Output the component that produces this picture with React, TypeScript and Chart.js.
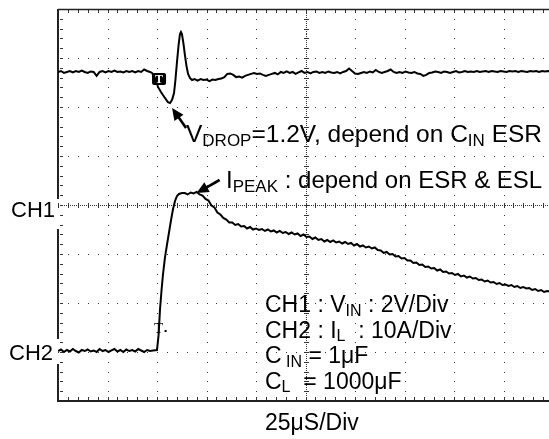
import React, { useEffect, useRef } from "react";
import { Chart, registerables } from "chart.js";

Chart.register(...registerables);

// ---------- DATA ----------
// Timebase: 25 µs/div, 10 divisions.  CH1: 2 V/div, CH2: 10 A/div.
const SAMPLE_US = 1.5;

// CH1 (V_IN), volts
const ch1PreStartUs = 0;
const ch1PreVolts = [5.43, 5.47, 5.39, 5.43, 5.47, 5.41, 5.47, 5.43, 5.49, 5.43, 5.39, 5.45, 5.43, 5.27, 5.43, 5.47,
  5.41, 5.47, 5.43, 5.49, 5.43, 5.45, 5.41, 5.47, 5.43, 5.47, 5.41, 5.47, 5.43, 5.53, 5.47, 5.43];
const ch1EventUs = [47.5, 49.5, 50.5, 52, 54, 55.5, 56.6, 57.6, 58.6, 59.3, 60.1, 60.9, 61.6, 62.1, 62.6, 63.4, 64.1,
  64.9, 65.7, 66.7, 67.7];
const ch1EventVolts = [5.39, 5.10, 4.82, 4.61, 4.37, 4.20, 4.16, 4.29, 4.57, 5.10, 5.84, 6.53, 6.98, 7.06, 6.98, 6.57,
  6.12, 5.67, 5.35, 5.18, 5.10];
const ch1PostStartUs = 69;
const ch1PostVolts = [5.14, 5.08, 5.14, 5.10, 5.12, 5.06, 5.12, 5.10, 5.14, 5.16, 5.22, 5.35, 5.37, 5.31, 5.22, 5.24,
  5.20, 5.27, 5.31, 5.35, 5.39, 5.35, 5.37, 5.31, 5.27, 5.31, 5.35, 5.39, 5.33, 5.43, 5.39, 5.45, 5.39, 5.43, 5.35,
  5.41, 5.47, 5.39, 5.43, 5.37, 5.43, 5.45, 5.39, 5.43, 5.39, 5.45, 5.41, 5.39, 5.43, 5.37, 5.43, 5.47, 5.57, 5.47,
  5.37, 5.35, 5.39, 5.43, 5.39, 5.45, 5.41, 5.51, 5.43, 5.39, 5.43, 5.47, 5.53, 5.43, 5.39, 5.43, 5.39, 5.45, 5.41,
  5.39, 5.43, 5.37, 5.35, 5.27, 5.31, 5.39, 5.41, 5.45, 5.43, 5.39, 5.45, 5.43, 5.39, 5.43, 5.47, 5.41, 5.43, 5.47,
  5.43, 5.45, 5.43, 5.47, 5.43, 5.45, 5.47, 5.43, 5.47, 5.45, 5.43, 5.47, 5.45, 5.43, 5.47, 5.45, 5.47, 5.43, 5.47,
  5.45, 5.43, 5.47, 5.45, 5.47, 5.43, 5.47, 5.45, 5.47, 5.45];

// CH2 (I_L), amps
const ch2PreStartUs = 0;
const ch2PreAmps = [0.20, 0.51, 0.00, 0.41, 0.10, 0.61, 0.20, -0.10, 0.41, 0.20, 0.51, 0.10, 0.31, 0.00, 0.61, 0.20,
  0.41, 0.00, 0.31, 0.61, 0.10, 0.41, 0.00, 0.51, 0.20, 0.41, 0.10, 0.61, 0.31, 0.00, 0.41, 0.20, 0.31];
const ch2RiseUs = [50.0, 50.8, 51.5, 52.3, 53.0, 54.0, 55.1, 56.1, 57.1, 58.1, 59.1, 60.1, 61.1, 62.6];
const ch2RiseAmps = [0.41, 3.47, 8.57, 12.65, 15.72, 19.19, 22.04, 24.49, 26.94, 29.19, 30.82, 31.84, 32.25, 32.45];
const ch2PostStartUs = 64;
const ch2PostAmps = [32.45, 32.15, 32.55, 32.35, 32.66, 32.15, 31.94, 31.23, 30.92, 29.90, 29.49, 28.47, 28.06, 27.35,
  27.04, 26.43, 26.43, 25.92, 26.12, 25.61, 25.72, 25.21, 25.51, 25.00, 25.21, 24.90, 25.10, 24.70, 25.00, 24.59,
  24.80, 24.39, 24.70, 24.29, 24.49, 24.08, 24.39, 23.98, 24.19, 23.68, 23.98, 23.47, 23.57, 23.06, 23.37, 22.86,
  23.06, 22.55, 22.86, 22.45, 22.76, 22.35, 22.55, 22.14, 22.45, 22.04, 22.25, 21.74, 22.04, 21.53, 21.74, 21.33,
  21.53, 21.12, 21.33, 20.82, 20.72, 20.21, 20.41, 19.90, 20.00, 19.49, 19.59, 19.08, 19.19, 18.67, 18.67, 18.16,
  18.27, 17.76, 17.86, 17.35, 17.45, 17.04, 17.14, 16.63, 16.84, 16.33, 16.43, 16.02, 16.12, 15.72, 15.92, 15.41,
  15.61, 15.20, 15.41, 15.00, 15.10, 14.70, 14.80, 14.39, 14.59, 14.18, 14.29, 13.88, 14.08, 13.67, 13.78, 13.47,
  13.67, 13.27, 13.47, 13.06, 13.27, 12.96, 13.06, 12.65, 12.86, 12.45, 12.65, 12.25, 12.45, 12.35];

// Text
const channelLabels = ["CH1", "CH2"];
const timebaseLabel = "25\u03bcS/Div";

type Run = { t: string; sub?: boolean };
const vdropNote: Run[] = [{ t: "V" }, { t: "DROP", sub: true }, { t: "=1.2V, depend on C" }, { t: "IN", sub: true }, { t: " ESR" }];
const ipeakNote: Run[] = [{ t: "I" }, { t: "PEAK", sub: true }, { t: " : depend on ESR & ESL" }];
const settingLines: Run[][] = [
  [{ t: "CH1 : V" }, { t: "IN", sub: true }, { t: " : 2V/Div" }],
  [{ t: "CH2 : I" }, { t: "L", sub: true }, { t: "  : 10A/Div" }],
  [{ t: "C" }, { t: " IN", sub: true }, { t: " = 1\u03bcF" }],
  [{ t: "C" }, { t: "L", sub: true }, { t: "  = 1000\u03bcF" }],
];

// ---------- helpers ----------
const FONT = '"Liberation Sans", Arial, Helvetica, sans-serif';

function seq(start: number, values: number[]) {
  return values.map((v, i) => ({ x: start + i * SAMPLE_US, y: v }));
}
function pairs(xs: number[], ys: number[]) {
  return xs.map((x, i) => ({ x, y: ys[i] }));
}

function drawRuns(ctx: CanvasRenderingContext2D, runs: Run[], x: number, y: number, size: number, subSize: number, drop: number) {
  let cx = x;
  ctx.textAlign = "left";
  ctx.textBaseline = "alphabetic";
  for (const r of runs) {
    const s = r.sub ? subSize : size;
    ctx.font = `${s}px ${FONT}`;
    ctx.fillText(r.t, cx, r.sub ? y + drop : y);
    cx += ctx.measureText(r.t).width;
  }
}

function drawArrow(ctx: CanvasRenderingContext2D, x1: number, y1: number, x2: number, y2: number) {
  const ang = Math.atan2(y2 - y1, x2 - x1);
  const hl = 12, hw = 5.5;
  ctx.save();
  ctx.strokeStyle = "#000";
  ctx.fillStyle = "#000";
  ctx.lineWidth = 2.6;
  ctx.beginPath();
  ctx.moveTo(x1, y1);
  ctx.lineTo(x2 - Math.cos(ang) * hl * 0.8, y2 - Math.sin(ang) * hl * 0.8);
  ctx.stroke();
  ctx.beginPath();
  ctx.moveTo(x2, y2);
  ctx.lineTo(x2 - Math.cos(ang) * hl + Math.sin(ang) * hw, y2 - Math.sin(ang) * hl - Math.cos(ang) * hw);
  ctx.lineTo(x2 - Math.cos(ang) * hl - Math.sin(ang) * hw, y2 - Math.sin(ang) * hl + Math.cos(ang) * hw);
  ctx.closePath();
  ctx.fill();
  ctx.restore();
}

const scopeGrid = {
  id: "scopeGrid",
  beforeDatasetsDraw(chart: any) {
    const { ctx, chartArea: a, scales } = chart;
    const xs = scales.x;
    const ys = scales.yV;
    ctx.save();
    ctx.fillStyle = "#333";
    const X_DIV = 25, Y_DIV = 2;
    // regular dotted graticule
    for (let d = 1; d < 10; d++) {
      if (d === 5) continue;
      const px = Math.round(xs.getPixelForValue(d * X_DIV));
      for (let m = 0; m <= 40; m++) {
        const py = Math.round(ys.getPixelForValue(-8 + (m * Y_DIV) / 5));
        ctx.fillRect(px, py, 1, 1);
      }
    }
    for (let d = 1; d < 8; d++) {
      if (d === 4) continue;
      const py = Math.round(ys.getPixelForValue(-8 + d * Y_DIV));
      for (let m = 0; m <= 50; m++) {
        const px = Math.round(xs.getPixelForValue((m * X_DIV) / 5));
        ctx.fillRect(px, py, 1, 1);
      }
    }
    // centre cross with fine ticks
    const cx = Math.round(xs.getPixelForValue(125));
    for (let m = 0; m <= 200; m++) {
      const py = Math.round(ys.getPixelForValue(-8 + (m * Y_DIV) / 25));
      const len = m % 5 === 0 ? 2 : 0;
      ctx.fillRect(cx - len, py, 1 + 2 * len, 1);
    }
    const cy = Math.round(ys.getPixelForValue(0));
    for (let m = 0; m <= 250; m++) {
      const px = Math.round(xs.getPixelForValue((m * X_DIV) / 25));
      const len = m % 5 === 0 ? 2 : 0;
      ctx.fillRect(px, cy - len, 1, 1 + 2 * len);
    }
    // border ticks
    for (let m = 0; m <= 50; m++) {
      const px = Math.round(xs.getPixelForValue((m * X_DIV) / 5));
      ctx.fillRect(px, a.bottom - 4, 1, 3);
      ctx.fillRect(px, a.top + 1, 1, 3);
    }
    for (let m = 0; m <= 40; m++) {
      const py = Math.round(ys.getPixelForValue(-8 + (m * Y_DIV) / 5));
      ctx.fillRect(a.left + 2, py, 3, 1);
    }
    // frame
    ctx.strokeStyle = "#222";
    ctx.lineWidth = 1.5;
    ctx.beginPath();
    ctx.moveTo(a.left, a.top + 0.5);
    ctx.lineTo(a.right, a.top + 0.5);
    ctx.stroke();
    ctx.lineWidth = 2;
    ctx.beginPath();
    ctx.moveTo(a.left - 1, a.bottom);
    ctx.lineTo(a.right, a.bottom);
    ctx.stroke();
    const y1 = ys.getPixelForValue(0);
    const y2 = scales.yA.getPixelForValue(0);
    const segs = [
      [a.top, y1 - 6],
      [y1 + 24, y2 - 13],
      [y2 + 12, a.bottom],
    ];
    ctx.beginPath();
    for (const [s, e] of segs) {
      ctx.moveTo(a.left, s);
      ctx.lineTo(a.left, e);
    }
    ctx.stroke();
    ctx.restore();
  },
  afterDatasetsDraw(chart: any) {
    const { ctx, scales } = chart;
    const xs = scales.x, yV = scales.yV, yA = scales.yA;
    ctx.save();
    ctx.fillStyle = "#000";

    // CH1 trigger marker
    const mx = xs.getPixelForValue(ch1EventUs[0]);
    const my = yV.getPixelForValue(ch1EventVolts[0]);
    ctx.beginPath();
    (ctx as any).roundRect(mx, my, 14, 12, 2);
    ctx.fill();
    ctx.fillStyle = "#fff";
    ctx.font = 'bold 12px "Liberation Serif", "DejaVu Serif", serif';
    ctx.textAlign = "center";
    ctx.textBaseline = "middle";
    ctx.fillText("T", mx + 7, my + 6.5);

    // CH2 trigger marker
    ctx.fillStyle = "#000";
    ctx.font = '15px "Liberation Serif", "DejaVu Serif", serif';
    ctx.textBaseline = "alphabetic";
    const tx = xs.getPixelForValue(ch2RiseUs[1]);
    const tyBase = yA.getPixelForValue(0) - 19;
    ctx.fillText("T", tx, tyBase);
    ctx.fillRect(tx + 6, tyBase - 3, 2, 2);

    // arrows
    const vx = xs.getPixelForValue(ch1EventUs[7]);
    const vy = yV.getPixelForValue(3.96);
    drawArrow(ctx, vx + 14, vy + 20, vx, vy);
    const ix = xs.getPixelForValue(70);
    const iy = yA.getPixelForValue(ch2RiseAmps[ch2RiseAmps.length - 1]);
    drawArrow(ctx, ix + 23, iy - 13, ix, iy);

    // notes
    ctx.fillStyle = "#000";
    drawRuns(ctx, vdropNote, 186, 142, 24.5, 17, 4);
    drawRuns(ctx, ipeakNote, 226, 188, 24, 17, 4);
    settingLines.forEach((line, i) => drawRuns(ctx, line, 265, 312 + i * 25.5, 23, 16, 3.5));

    // labels outside the graticule
    ctx.font = `22px ${FONT}`;
    ctx.textAlign = "right";
    ctx.fillText(channelLabels[0], 55, yV.getPixelForValue(0) + 12);
    ctx.fillText(channelLabels[1], 53, yA.getPixelForValue(0) + 8);
    ctx.textAlign = "left";
    ctx.font = `23px ${FONT}`;
    ctx.fillText(timebaseLabel, 265, 430);
    ctx.restore();
  },
};

export default function App() {
  const ref = useRef<HTMLCanvasElement>(null);
  useEffect(() => {
    if (!ref.current) return;
    const chart = new Chart(ref.current, {
      type: "line",
      data: {
        datasets: [
          {
            label: "CH1",
            data: [...seq(ch1PreStartUs, ch1PreVolts), ...pairs(ch1EventUs, ch1EventVolts), ...seq(ch1PostStartUs, ch1PostVolts)],
            yAxisID: "yV",
            borderColor: "#000",
            borderWidth: 2,
            pointRadius: 0,
            tension: 0,
          },
          {
            label: "CH2",
            data: [...seq(ch2PreStartUs, ch2PreAmps), ...pairs(ch2RiseUs, ch2RiseAmps), ...seq(ch2PostStartUs, ch2PostAmps)],
            yAxisID: "yA",
            borderColor: "#000",
            borderWidth: 2,
            pointRadius: 0,
            tension: 0,
          },
        ],
      },
      options: {
        animation: false,
        responsive: false,
        devicePixelRatio: 1,
        layout: { padding: { left: 58, top: 9, right: 3, bottom: 38 }, autoPadding: false },
        plugins: { legend: { display: false }, tooltip: { enabled: false } },
        events: [],
        scales: {
          x: { type: "linear", min: 0, max: 250, display: false },
          yV: { type: "linear", min: -8, max: 8, display: false },
          yA: { type: "linear", min: -10, max: 70, display: false },
        },
      },
      plugins: [scopeGrid],
    });
    return () => chart.destroy();
  }, []);
  return (
    <div style={{ position: "absolute", left: 0, top: 0, width: 549, height: 439, overflow: "hidden", background: "#fff" }}>
      <canvas ref={ref} width={556} height={439} style={{ display: "block" }} />
    </div>
  );
}
